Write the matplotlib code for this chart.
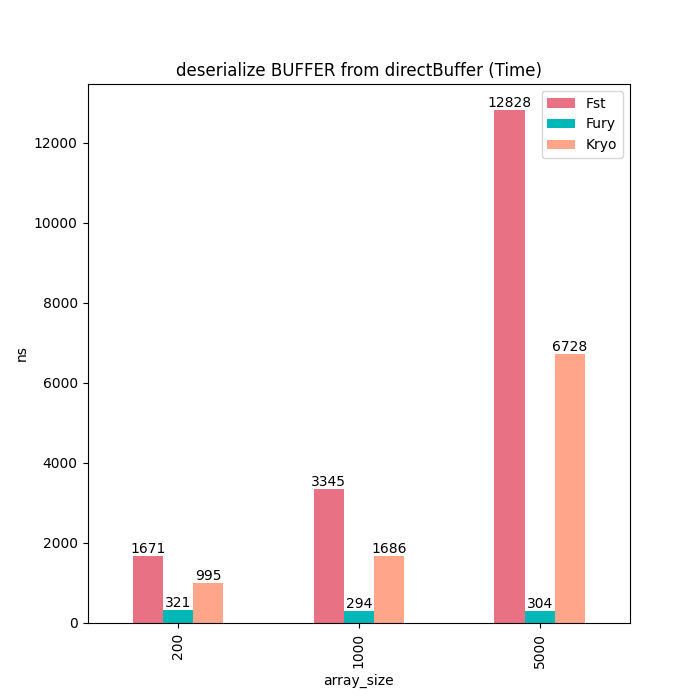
import matplotlib
matplotlib.use("Agg")
import matplotlib.pyplot as plt
import pandas as pd

sizes = ["200", "1000", "5000"]
fst = [1671, 3345, 12828]
fury = [321, 294, 304]
kryo = [995, 1686, 6728]

df = pd.DataFrame({"Fst": fst, "Fury": fury, "Kryo": kryo}, index=pd.Index(sizes, name="array_size"))
fig, ax = plt.subplots(figsize=(7, 7), dpi=100)
df.plot.bar(ax=ax, color=["#e87284", "#00b8b8", "#ffa68a"])
for c in ax.containers:
    ax.bar_label(c)
ax.set_title("deserialize BUFFER from directBuffer (Time)")
ax.set_ylabel("ns")
fig.savefig("out.png")
